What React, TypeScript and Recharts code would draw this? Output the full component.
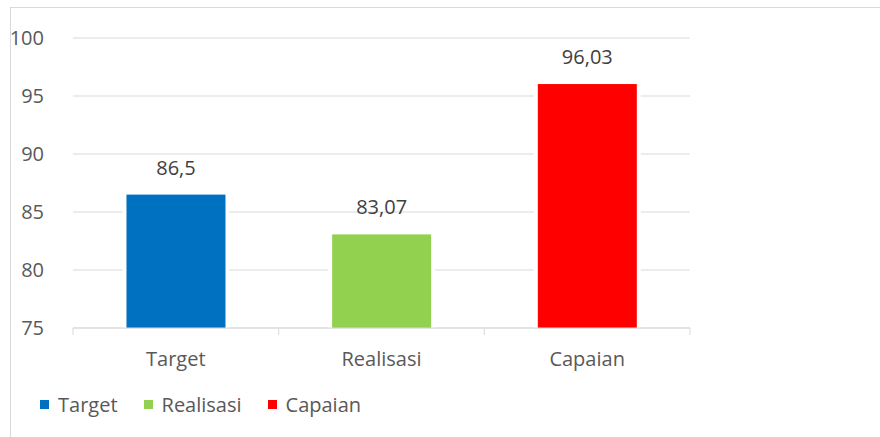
import React from "react";
import {
  BarChart,
  Bar,
  XAxis,
  YAxis,
  CartesianGrid,
  Cell,
  LabelList,
  Legend,
} from "recharts";

const categories = ["Target", "Realisasi", "Capaian"];
const values = [86.5, 83.07, 96.03];
const colors = ["#0070C0", "#92D050", "#FF0000"];
const yTicks = [75, 80, 85, 90, 95, 100];

const data = categories.map((name, i) => ({ name, value: values[i] }));

const FONT = "'Open Sans', sans-serif";
const GRID = "#d9d9d9";

const formatComma = (v: any) => String(v).replace(".", ",");

// white halo around each bar so the gridlines stop short of it
const BarWithGap = (props: any) => {
  const { x, y, width, height, fill } = props;
  return (
    <g>
      <rect x={x - 4} y={y - 4} width={width + 8} height={height + 4} fill="#fff" />
      <rect x={x} y={y} width={width} height={height} fill={fill} />
    </g>
  );
};

const CategoryTick = (props: any) => {
  const { x, y, payload, index, visibleTicksCount } = props;
  const half = payload.offset || 0;
  const axisY = y - 24;
  return (
    <g>
      <line x1={x - half} x2={x - half} y1={axisY} y2={axisY + 7} stroke={GRID} />
      {index === visibleTicksCount - 1 && (
        <line x1={x + half} x2={x + half} y1={axisY} y2={axisY + 7} stroke={GRID} />
      )}
      <text x={x} y={y} dy="0.71em" textAnchor="middle" fill="#595959" fontSize={20} fontFamily={FONT}>
        {payload.value}
      </text>
    </g>
  );
};

const renderLegend = () => (
  <div style={{ display: "flex", alignItems: "center", height: 40, fontFamily: FONT, fontSize: 20, color: "#595959" }}>
    {categories.map((c, i) => (
      <div key={c} style={{ display: "flex", alignItems: "center", marginRight: 26 }}>
        <span style={{ display: "inline-block", width: 9, height: 9, background: colors[i], marginRight: 9 }} />
        <span>{c}</span>
      </div>
    ))}
  </div>
);

export default function App() {
  return (
    <div style={{ position: "absolute", left: 0, top: 0, width: 880, height: 437, overflow: "hidden", background: "#fff" }}>
      <div style={{ position: "absolute", left: 10, top: 7, width: 900, height: 460, border: `1px solid ${GRID}` }} />
      <div style={{ position: "absolute", left: 0, top: 0 }}>
        <BarChart
          width={880}
          height={437}
          data={data}
          margin={{ top: 38, right: 190, bottom: 13, left: 0 }}
          barCategoryGap="26%"
          style={{ fontFamily: FONT }}
        >
          <CartesianGrid vertical={false} stroke={GRID} />
          <Bar dataKey="value" shape={BarWithGap} isAnimationActive={false}>
            {data.map((d, i) => (
              <Cell key={d.name} fill={colors[i]} />
            ))}
            <LabelList
              dataKey="value"
              position="top"
              offset={20}
              formatter={formatComma}
              fill="#404040"
              fontSize={20}
              fontFamily={FONT}
            />
          </Bar>
          <XAxis
            dataKey="name"
            height={56}
            axisLine={{ stroke: GRID }}
            tickLine={false}
            tickSize={7}
            tickMargin={17}
            tick={<CategoryTick />}
            interval={0}
          />
          <YAxis
            domain={[75, 100]}
            ticks={yTicks}
            width={73}
            axisLine={false}
            tickLine={false}
            tickMargin={23}
            tick={{ fill: "#595959", fontSize: 20, fontFamily: FONT }}
          />
          <Legend
            verticalAlign="bottom"
            align="left"
            height={40}
            content={renderLegend}
            wrapperStyle={{ left: 40, bottom: 13, width: 500 }}
          />
        </BarChart>
      </div>
    </div>
  );
}
